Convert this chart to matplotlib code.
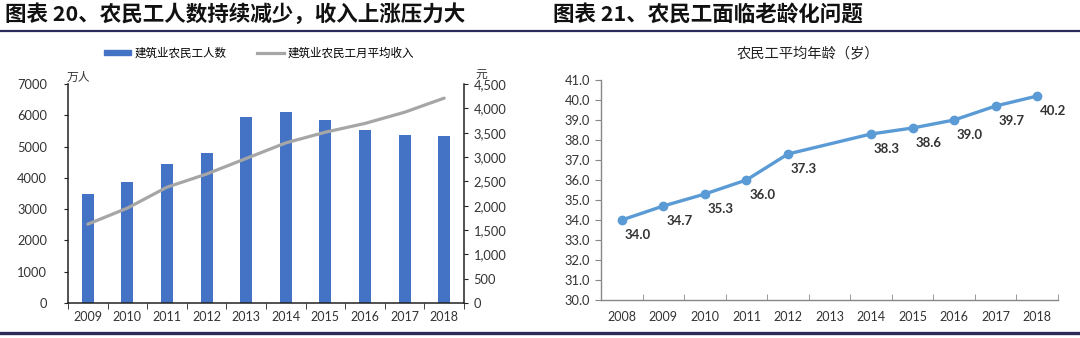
import numpy as np
import matplotlib
matplotlib.use("Agg")
import matplotlib.pyplot as plt
from matplotlib.lines import Line2D
from matplotlib.patches import Patch
from matplotlib.ticker import FuncFormatter, MultipleLocator

plt.rcParams['font.family'] = ['Lato', 'Noto Sans CJK SC', 'DejaVu Sans']

# ---- data ----
years_left = ['2009', '2010', '2011', '2012', '2013', '2014', '2015', '2016', '2017', '2018']
workers = [3480, 3870, 4440, 4810, 5940, 6090, 5840, 5520, 5380, 5340]          # 万人
income = [1620, 1950, 2380, 2650, 2970, 3290, 3510, 3690, 3920, 4210]           # 元/月

years_right = ['2008', '2009', '2010', '2011', '2012', '2013', '2014', '2015', '2016', '2017', '2018']
avg_age = [34.0, 34.7, 35.3, 36.0, 37.3, np.nan, 38.3, 38.6, 39.0, 39.7, 40.2]

title_left = '图表 20、农民工人数持续减少，收入上涨压力大'
title_right = '图表 21、农民工面临老龄化问题'
subtitle_right = '农民工平均年龄（岁）'
legend_labels = ['建筑业农民工人数', '建筑业农民工月平均收入']

BAR = '#4472C4'
GRAY = '#A6A6A6'
LINE = '#5B9BD5'
NAVY = '#2B2B5A'
CJK = ['Noto Sans CJK SC', 'DejaVu Sans']

W, H = 1080, 338
fig = plt.figure(figsize=(W / 100, H / 100), dpi=100)
fig.patch.set_facecolor('white')


def px_axes(x0, x1, ytop, ybot):
    return fig.add_axes([x0 / W, 1 - ybot / H, (x1 - x0) / W, (ybot - ytop) / H])


# ---- headings and rules ----
fig.text(5 / W, 1 - 14 / H, title_left, family=CJK, fontsize=15.5,
         fontweight='bold', va='center', ha='left', color='#111111')
fig.text(553 / W, 1 - 14 / H, title_right, family=CJK, fontsize=15.5,
         fontweight='bold', va='center', ha='left', color='#111111')
fig.add_artist(Line2D([0, 1], [1 - 31 / H] * 2, color=NAVY, lw=1.6,
                      transform=fig.transFigure))
fig.add_artist(Line2D([0, 1], [1 - 333 / H] * 2, color=NAVY, lw=2.4,
                      transform=fig.transFigure))

# ---- left chart: bars + income line ----
ax = px_axes(68, 464, 84, 303)
x = np.arange(len(years_left))
ax.bar(x, workers, width=0.3, color=BAR, zorder=2)
ax.set_xlim(-0.5, len(years_left) - 0.5)
ax.set_ylim(0, 7000)
ax.yaxis.set_major_locator(MultipleLocator(1000))
ax.set_xticks(x)
ax.set_xticklabels(years_left)
ax.set_xticks(np.arange(-0.5, len(years_left)), minor=True)
ax.tick_params(axis='x', which='major', length=0, labelsize=9, labelcolor='#333333', pad=6)
ax.tick_params(axis='x', which='minor', length=4, direction='out', color='#222222')
ax.tick_params(axis='y', length=3, direction='out', labelsize=9.3, labelcolor='#333333',
               color='#222222', pad=12)
for s in ['top', 'right']:
    ax.spines[s].set_visible(False)
for s in ['left', 'bottom']:
    ax.spines[s].set_color('#222222')
    ax.spines[s].set_linewidth(1.1)

ax2 = ax.twinx()
ax2.plot(x, income, color=GRAY, lw=2.3, solid_capstyle='round', zorder=3)
ax2.set_ylim(0, 4500)
ax2.yaxis.set_major_locator(MultipleLocator(500))
ax2.yaxis.set_major_formatter(FuncFormatter(lambda v, p: f'{int(v):,}'))
ax2.tick_params(axis='y', length=3, direction='out', labelsize=9.3, labelcolor='#333333',
                color='#222222', pad=4)
for s in ['top', 'left', 'bottom']:
    ax2.spines[s].set_visible(False)
ax2.spines['right'].set_color('#222222')
ax2.spines['right'].set_linewidth(1.1)

fig.text(67 / W, 1 - 77 / H, '万人', family=CJK, fontsize=8.5, ha='left', va='center', color='#333333')
fig.text(481 / W, 1 - 74 / H, '元', family=CJK, fontsize=8.5, ha='center', va='center', color='#333333')

handles = [Patch(color=BAR), Line2D([0], [0], color=GRAY, lw=2.3)]
fig.legend(handles, legend_labels, loc='center', bbox_to_anchor=(259 / W, 1 - 53 / H),
           ncol=2, frameon=False, prop={'family': CJK, 'size': 8.3},
           handlelength=2.4, handleheight=0.35, columnspacing=2.6, handletextpad=0.3)

# ---- right chart: average age ----
bx = px_axes(601, 1058, 80, 300)
xr = np.arange(len(years_right))
age = np.array(avg_age, dtype=float)
ok = ~np.isnan(age)
bx.plot(xr[ok], age[ok], color=LINE, lw=2.4, marker='o', markersize=6, zorder=3)
for xi, v in zip(xr[ok], age[ok]):
    bx.annotate(f'{v:.1f}', (xi, v), xytext=(16, -15), textcoords='offset pixels',
                ha='center', va='center', fontsize=9.5, fontweight='bold', color='#333333')
bx.set_xlim(-0.5, len(years_right) - 0.5)
bx.set_ylim(30, 41)
bx.yaxis.set_major_locator(MultipleLocator(1))
bx.yaxis.set_major_formatter(FuncFormatter(lambda v, p: f'{v:.1f}'))
bx.set_xticks(xr)
bx.set_xticklabels(years_right)
bx.set_xticks(np.arange(-0.5, len(years_right)), minor=True)
bx.tick_params(axis='x', which='major', length=0, labelsize=9, labelcolor='#333333', pad=8)
bx.tick_params(axis='x', which='minor', length=4, direction='in', color='#888888')
bx.tick_params(axis='y', length=4, direction='out', labelsize=9.3, labelcolor='#333333',
               color='#888888', pad=4)
for s in ['top', 'right']:
    bx.spines[s].set_visible(False)
for s in ['left', 'bottom']:
    bx.spines[s].set_color('#888888')
    bx.spines[s].set_linewidth(1.0)

fig.text(808 / W, 1 - 53 / H, subtitle_right, family=CJK, fontsize=10.3,
         ha='center', va='center', color='#222222')

fig.savefig('out.png', dpi=100, facecolor='white')
